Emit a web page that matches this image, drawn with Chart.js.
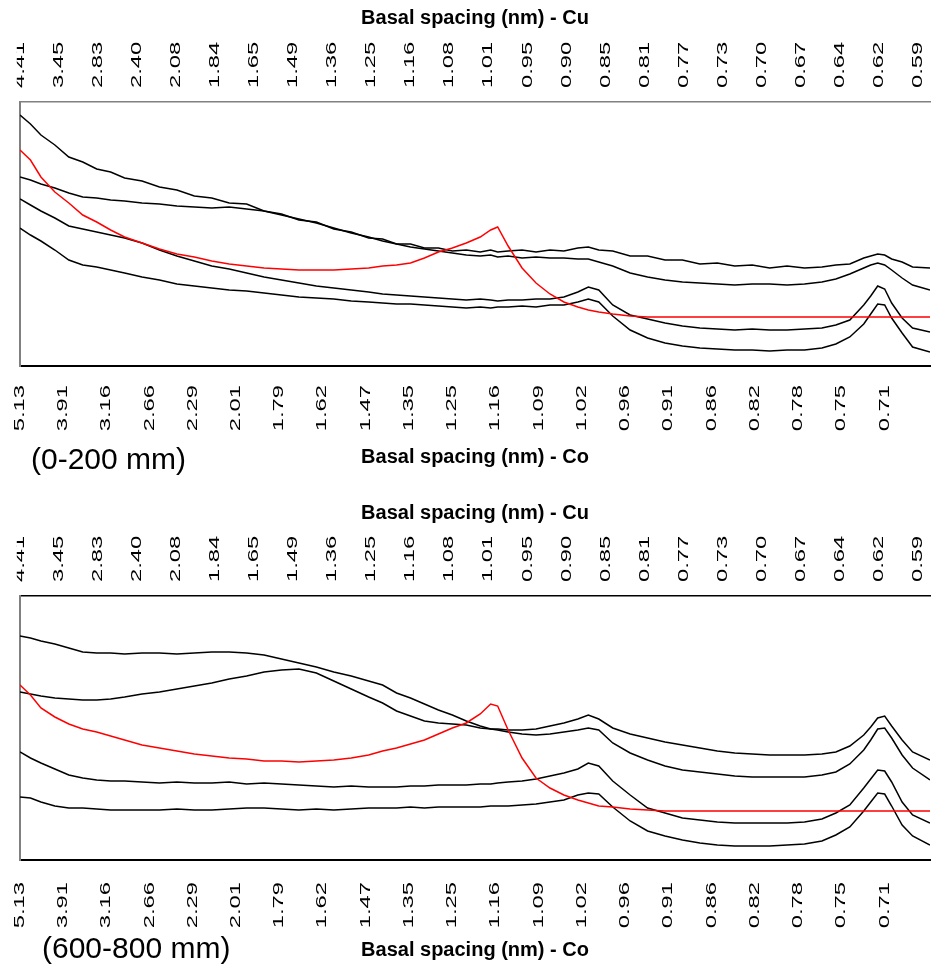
<!DOCTYPE html>
<html>
<head>
<meta charset="utf-8">
<script src="https://cdn.jsdelivr.net/npm/chart.js@4"></script>
<style>
  body { margin: 0; background: #fff; }
  .wrap { position: relative; width: 935px; height: 968px; }
  .panel { position: absolute; left: 0; width: 935px; height: 484px; }
  .tag { position: absolute; font: 30px "Liberation Sans", Arial, sans-serif; line-height: 30px; color: #000; white-space: nowrap; }
</style>
</head>
<body>
<div class="wrap">
  <div class="panel" style="top:0"><canvas id="chart1"></canvas></div>
  <div class="panel" style="top:484px"><canvas id="chart2"></canvas></div>
  <div class="tag" style="left:31px;top:444px">(0-200 mm)</div>
  <div class="tag" style="left:42px;top:933px">(600-800 mm)</div>
</div>
<script>
// tick labels (basal spacing in nm)
const cuLabels = ['4.41','3.45','2.83','2.40','2.08','1.84','1.65','1.49','1.36','1.25','1.16','1.08',
                  '1.01','0.95','0.90','0.85','0.81','0.77','0.73','0.70','0.67','0.64','0.62','0.59'];
const coLabels = ['5.13','3.91','3.16','2.66','2.29','2.01','1.79','1.62','1.47','1.35','1.25','1.16',
                  '1.09','1.02','0.96','0.91','0.86','0.82','0.78','0.75','0.71'];
const cuStep = 0.56;   // degrees 2-theta between Cu labels
const coStep = 0.62;   // degrees 2-theta between Co labels

// 2-theta (deg) of the sampled points
const twoTheta = [2.0, 2.15, 2.3, 2.5, 2.7, 2.9, 3.1, 3.3, 3.5, 3.75, 4.0, 4.25, 4.5, 4.75, 5.0, 5.25,
  5.5, 5.75, 6.0, 6.25, 6.5, 6.75, 7.0, 7.2, 7.4, 7.6, 7.8, 8.0, 8.2, 8.4, 8.6, 8.75, 8.85, 9.0,
  9.2, 9.4, 9.6, 9.8, 10.0, 10.15, 10.3, 10.5, 10.75, 11.0, 11.25, 11.5, 11.75, 12.0, 12.25, 12.5,
  12.75, 13.0, 13.25, 13.5, 13.7, 13.9, 14.1, 14.2, 14.3, 14.4, 14.5, 14.65, 14.8, 15.05];

// (0-200 mm) intensities
const top1a = [251, 242, 231, 221, 209, 204, 197, 194, 188, 185, 179, 176, 170, 168, 163, 162, 155, 152, 146, 144,
  137, 134, 128, 127, 122, 122, 118, 118, 115, 116, 114, 116, 114, 115, 116, 114, 116, 115, 118, 119,
  116, 115, 110, 110, 106, 106, 102, 103, 100, 101, 98, 100, 98, 99, 101, 102, 108, 110, 112, 111,
  107, 104, 99, 98];
const top1b = [189, 186, 182, 178, 173, 169, 168, 166, 165, 163, 162, 160, 159, 158, 159, 157, 155, 151, 147, 143,
  138, 133, 129, 125, 122, 119, 117, 115, 113, 111, 110, 111, 109, 110, 108, 109, 108, 108, 107, 107,
  104, 100, 93, 89, 86, 84, 83, 82, 81, 82, 82, 81, 82, 84, 87, 92, 98, 101, 103, 101,
  96, 88, 81, 76];
const top1c = [167, 161, 155, 148, 140, 137, 134, 131, 128, 123, 116, 110, 105, 100, 97, 93, 89, 86, 83, 80,
  78, 76, 74, 72, 71, 70, 69, 68, 67, 66, 67, 66, 65, 66, 66, 67, 67, 69, 74, 79,
  76, 61, 51, 47, 43, 40, 38, 37, 36, 37, 36, 36, 37, 38, 41, 46, 61, 70, 80, 77,
  63, 48, 38, 34];
const top1d = [138, 131, 125, 116, 106, 101, 99, 96, 93, 89, 86, 82, 80, 78, 76, 75, 73, 71, 69, 68,
  67, 65, 64, 63, 62, 62, 61, 60, 59, 58, 59, 58, 59, 59, 60, 59, 61, 61, 64, 67,
  64, 50, 36, 28, 23, 20, 18, 17, 16, 16, 15, 16, 16, 18, 22, 29, 42, 52, 62, 61,
  48, 33, 19, 14];
const top1red = [216, 206, 189, 174, 163, 151, 144, 136, 129, 123, 117, 112, 109, 105, 102, 100, 98, 97, 96, 96,
  96, 97, 98, 100, 101, 103, 108, 114, 118, 123, 129, 136, 139, 120, 98, 83, 72, 64, 59, 56,
  54, 52, 50, 49, 49, 49, 49, 49, 49, 49, 49, 49, 49, 49, 49, 49, 49, 49, 49, 49,
  49, 49, 49, 49];

// (600-800 mm) intensities
const top2a = [224, 222, 219, 216, 212, 208, 207, 207, 206, 207, 207, 206, 207, 208, 208, 207, 205, 201, 197, 193,
  188, 184, 179, 175, 167, 162, 156, 150, 145, 139, 134, 131, 131, 130, 130, 131, 134, 137, 141, 145,
  141, 132, 126, 122, 118, 115, 112, 109, 107, 106, 105, 105, 105, 106, 108, 114, 125, 133, 142, 144,
  134, 120, 108, 100];
const top2b = [168, 166, 164, 162, 161, 160, 160, 161, 163, 166, 168, 171, 174, 177, 181, 184, 188, 190, 191, 187,
  179, 171, 163, 157, 149, 144, 139, 137, 136, 135, 132, 131, 130, 128, 126, 125, 126, 128, 130, 132,
  130, 117, 107, 100, 94, 90, 88, 86, 84, 83, 83, 83, 83, 85, 88, 96, 110, 120, 131, 132,
  122, 105, 92, 80];
const top2c = [108, 102, 97, 91, 85, 82, 80, 79, 79, 78, 77, 78, 77, 77, 78, 76, 77, 76, 75, 74,
  73, 74, 73, 73, 73, 74, 74, 75, 75, 75, 76, 76, 77, 78, 79, 81, 84, 87, 91, 97,
  94, 79, 65, 52, 47, 42, 40, 38, 37, 37, 37, 37, 38, 41, 47, 55, 72, 81, 90, 89,
  78, 58, 45, 37];
const top2d = [63, 62, 58, 54, 52, 52, 51, 50, 50, 50, 50, 51, 50, 50, 51, 52, 52, 51, 50, 51,
  50, 51, 52, 52, 52, 53, 52, 53, 53, 53, 53, 54, 54, 54, 55, 56, 58, 60, 65, 67,
  66, 53, 39, 29, 24, 20, 17, 15, 14, 14, 14, 15, 16, 19, 25, 33, 49, 58, 67, 66,
  54, 35, 24, 15];
const top2red = [175, 165, 152, 143, 136, 131, 128, 124, 120, 115, 112, 109, 106, 104, 102, 101, 99, 99, 98, 99,
  100, 102, 105, 109, 112, 116, 120, 126, 132, 137, 146, 156, 154, 130, 102, 82, 72, 65, 60, 57,
  54, 53, 51, 50, 49, 49, 49, 49, 49, 49, 49, 49, 49, 49, 49, 49, 49, 49, 49, 49,
  49, 49, 49, 49];

const LABEL_STRETCH = 1.7;   // the original tick labels are tall and narrow

// linear scale whose rotated tick labels are stretched along their length
class StretchedLinearScale extends Chart.LinearScale {
  static id = 'stretchedLinear';
  static defaults = Chart.LinearScale.defaults;
  drawLabels(chartArea) {
    const items = this.getLabelItems(chartArea);
    if (!items.length) return;
    const anchorY = items[0].options.translation[1];
    const ctx = this.ctx;
    ctx.save();
    // rotated labels on a top axis sit one line height left of their tick
    if (this.options.position === 'top') ctx.translate(items[0].font.lineHeight, 0);
    ctx.transform(1, 0, 0, LABEL_STRETCH, 0, (1 - LABEL_STRETCH) * anchorY);
    super.drawLabels(chartArea);
    ctx.restore();
  }
}
Chart.register(StretchedLinearScale);

const tickFont = { family: '"Liberation Sans", Arial, sans-serif', size: 14 };
const titleFont = { family: '"Liberation Sans", Arial, sans-serif', size: 20, weight: 'bold' };

function toPoints(values) {
  return values.map((v, i) => ({ x: twoTheta[i], y: v }));
}

function initPanel(canvasId, red, blacks, lay) {
  const datasets = [red].concat(blacks).map((values, i) => ({
    data: toPoints(values),
    borderColor: i === 0 ? '#ff0000' : '#000000',
    borderWidth: 1.5,
    pointRadius: 0,
    tension: 0,
    fill: false
  }));

  new Chart(document.getElementById(canvasId), {
    type: 'line',
    data: { datasets: datasets },
    options: {
      responsive: true,
      maintainAspectRatio: false,
      animation: false,
      layout: { padding: { left: 20, right: 5, top: 0, bottom: 0 } },
      plugins: { legend: { display: false }, tooltip: { enabled: false } },
      scales: {
        x: {
          type: 'stretchedLinear',
          position: 'bottom',
          min: 2, max: 15.05,
          afterBuildTicks: s => { s.ticks = coLabels.map((_, i) => ({ value: 2 + i * coStep })); },
          afterFit: s => { s.height = lay.bottomH; s.paddingLeft = 0; s.paddingRight = 0; },
          grid: { display: false, drawTicks: false },
          border: { color: '#000', width: 2 },
          ticks: {
            autoSkip: false, minRotation: 90, maxRotation: 90, padding: lay.coPad,
            color: '#000', font: tickFont,
            callback: (v, i) => coLabels[i]
          },
          title: {
            display: true, text: 'Basal spacing (nm) - Co', color: '#000', font: titleFont,
            padding: { top: 0, bottom: lay.coTitlePad }
          }
        },
        xTop: {
          type: 'stretchedLinear',
          position: 'top',
          min: 2, max: 15.05,
          afterBuildTicks: s => { s.ticks = cuLabels.map((_, i) => ({ value: 2 + i * cuStep })); },
          afterFit: s => { s.height = lay.topH; s.paddingLeft = 0; s.paddingRight = 0; },
          grid: { display: false, drawTicks: false },
          border: { color: lay.topBorder, width: 1.5 },
          ticks: {
            autoSkip: false, minRotation: 90, maxRotation: 90, padding: 14,
            color: '#000', font: tickFont,
            callback: (v, i) => cuLabels[i]
          },
          title: {
            display: true, text: 'Basal spacing (nm) - Cu', color: '#000', font: titleFont,
            padding: { top: lay.cuTitlePad, bottom: 0 }
          }
        },
        y: {
          min: 0, max: 264,
          afterFit: s => { s.width = 0; },
          grid: { display: false, drawTicks: false },
          ticks: { display: false },
          border: { color: '#808080', width: 2 }
        }
      }
    }
  });
}

initPanel('chart1', top1red, [top1a, top1b, top1c, top1d],
  { topH: 102, bottomH: 118, coPad: 19, cuTitlePad: 6, coTitlePad: 15, topBorder: '#808080' });
initPanel('chart2', top2red, [top2a, top2b, top2c, top2d],
  { topH: 112, bottomH: 108, coPad: 22, cuTitlePad: 17, coTitlePad: 6, topBorder: '#000000' });
</script>
</body>
</html>
